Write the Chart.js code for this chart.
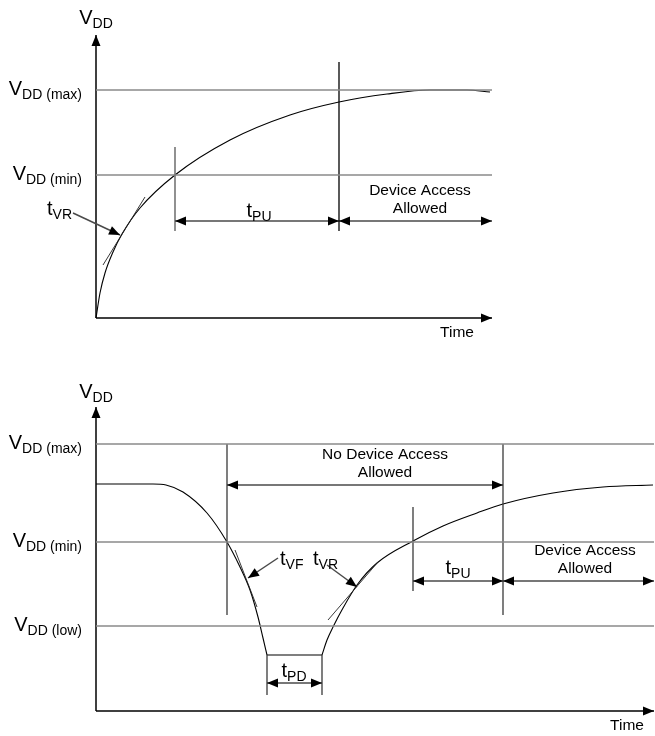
<!DOCTYPE html>
<html>
<head>
<meta charset="utf-8">
<script src="https://cdn.jsdelivr.net/npm/chart.js@4.4.1/dist/chart.umd.min.js"></script>
<style>
  body { margin: 0; background: #fff; }
  #wrap { position: relative; width: 655px; height: 736px; }
  canvas { position: absolute; left: 0; }
</style>
</head>
<body>
<div id="wrap">
  <canvas id="topChart" width="655" height="360" style="top:0"></canvas>
  <canvas id="bottomChart" width="655" height="376" style="top:360px"></canvas>
</div>
<script>
// ---- Power-up diagram (top) ----
// time / voltage in diagram units
const topRiseT = [0, 4, 9, 17, 26, 44, 79, 134, 194, 243, 291, 334, 371, 394];
const topRiseV = [0, 25, 45, 66, 84, 110, 143, 178, 203, 216, 224, 228, 228, 226];
const topLevels = [228, 143];              // VDD(max), VDD(min)
const topLevelNames = ['(max)', '(min)'];
const topTangent = [[7, 53], [49, 121]];    // tVR slope
// [t, vLow, vHigh, colour]
const topMarkers = [[79, 87, 171, '#555'], [243, 87, 256, '#000']];
// [t1, v1, t2, v2, both heads]
const topArrows = [
  [79, 97, 243, 97, true],
  [243, 97, 396, 97, true],
  [-23, 105, 24, 83, false]
];

// ---- Brown-out diagram (bottom) ----
const botFallT = [0, 57, 70, 87, 111, 131, 144, 154, 162, 167, 171];
const botFallV = [227, 227, 226, 219, 198, 169, 144, 121, 94, 73, 56];
const botFloorT = [171, 226];
const botFloorV = [56, 56];
const botRiseT = [226, 231, 237, 247, 261, 281, 317, 347, 381, 407, 457, 507, 557];
const botRiseV = [56, 71, 84, 103, 126, 148, 170, 185, 198, 207, 218, 224, 226];
const botLevels = [267, 169, 85];          // VDD(max), VDD(min), VDD(low)
const botLevelNames = ['(max)', '(min)', '(low)'];
const botTangents = [[[139, 161], [161, 104]], [[232, 91], [282, 149]]];
const botMarkers = [[131, 96, 267], [317, 120, 204], [407, 96, 267], [171, 16, 56], [226, 16, 56]];
const botArrows = [
  [131, 226, 407, 226, true],
  [317, 130, 407, 130, true],
  [407, 130, 558, 130, true],
  [171, 28, 226, 28, true],
  [182, 153, 152, 133, false],
  [231, 146, 261, 124, false]
];

const FONT = 'Arial, "Liberation Sans", sans-serif';

function lineSet(points, color, width, smooth) {
  return {
    data: points.map(p => ({ x: p[0], y: p[1] })),
    showLine: true,
    borderColor: color,
    borderWidth: width,
    pointRadius: 0,
    clip: false,
    tension: smooth ? 0.4 : 0,
    cubicInterpolationMode: smooth ? 'monotone' : 'default'
  };
}

function zip(ts, vs) {
  return ts.map((t, i) => [t, vs[i]]);
}

function drawHead(ctx, x1, y1, x2, y2) {
  const a = Math.atan2(y2 - y1, x2 - x1);
  const len = 11, hw = 4.5;
  ctx.beginPath();
  ctx.moveTo(x2, y2);
  ctx.lineTo(x2 - len * Math.cos(a) + hw * Math.sin(a), y2 - len * Math.sin(a) - hw * Math.cos(a));
  ctx.lineTo(x2 - len * Math.cos(a) - hw * Math.sin(a), y2 - len * Math.sin(a) + hw * Math.cos(a));
  ctx.closePath();
  ctx.fill();
}

// main text + subscript, e.g. V + DD (max)
function drawSub(ctx, x, y, main, sub, align, size) {
  const subSize = Math.round(size * 0.68);
  ctx.font = size + 'px ' + FONT;
  const w1 = ctx.measureText(main).width;
  ctx.font = subSize + 'px ' + FONT;
  const w2 = sub ? ctx.measureText(sub).width : 0;
  let x0 = x;
  if (align === 'right') x0 = x - w1 - w2;
  if (align === 'center') x0 = x - (w1 + w2) / 2;
  ctx.textAlign = 'left';
  ctx.textBaseline = 'middle';
  ctx.font = size + 'px ' + FONT;
  ctx.fillText(main, x0, y);
  if (sub) {
    ctx.font = subSize + 'px ' + FONT;
    ctx.fillText(sub, x0 + w1, y + size * 0.33);
  }
}

function makeChart(id, opts) {
  const datasets = [];
  opts.levels.forEach(v => datasets.push(lineSet([[0, v], [opts.xMax, v]], '#8a8a8a', 1.6)));
  opts.markers.forEach(m => datasets.push(lineSet([[m[0], m[1]], [m[0], m[2]]], m[3] || '#3a3a3a', 1.3)));
  opts.arrows.forEach(a => datasets.push(lineSet([[a[0], a[1]], [a[2], a[3]]], '#4a4a4a', 1.5)));
  opts.tangents.forEach(tg => datasets.push(lineSet(tg, '#222', 0.9)));
  opts.curves.forEach(c => datasets.push(lineSet(c, '#000', 1.1, c.length > 2)));
  datasets.push(lineSet([[0, 0], [0, opts.yMax]], '#000', 1.5));
  datasets.push(lineSet([[0, 0], [opts.xMax, 0]], '#000', 1.5));

  const annotate = {
    id: 'annotate',
    afterDatasetsDraw(chart) {
      const ctx = chart.ctx;
      const X = v => chart.scales.x.getPixelForValue(v);
      const Y = v => chart.scales.y.getPixelForValue(v);
      ctx.save();
      ctx.fillStyle = '#000';
      // axis arrow heads
      drawHead(ctx, X(0), Y(0), X(0), Y(opts.yMax));
      drawHead(ctx, X(0), Y(0), X(opts.xMax), Y(0));
      opts.arrows.forEach(a => {
        drawHead(ctx, X(a[0]), Y(a[1]), X(a[2]), Y(a[3]));
        if (a[4]) drawHead(ctx, X(a[2]), Y(a[3]), X(a[0]), Y(a[1]));
      });
      // level labels
      opts.levels.forEach((v, i) => drawSub(ctx, X(-14), Y(v) - 1, 'V', 'DD ' + opts.levelNames[i], 'right', 20));
      drawSub(ctx, X(0), Y(opts.vddLabelV), 'V', 'DD', 'center', 20);
      opts.texts.forEach(t => {
        if (t[5] === 'plain') {
          ctx.font = '15.5px ' + FONT;
          ctx.textAlign = 'center';
          ctx.textBaseline = 'middle';
          ctx.fillText(t[0], X(t[2]), Y(t[3]));
        } else {
          drawSub(ctx, X(t[2]), Y(t[3]), t[0], t[1], t[4], 20);
        }
      });
      ctx.restore();
    }
  };

  return new Chart(document.getElementById(id), {
    type: 'scatter',
    data: { datasets },
    options: {
      responsive: false,
      animation: false,
      layout: { padding: opts.padding },
      scales: {
        x: { type: 'linear', min: 0, max: opts.xMax, display: false },
        y: { type: 'linear', min: 0, max: opts.yMax, display: false }
      },
      plugins: { legend: { display: false }, tooltip: { enabled: false } }
    },
    plugins: [annotate]
  });
}

makeChart('topChart', {
  xMax: 396, yMax: 283,
  padding: { left: 96, right: 163, top: 35, bottom: 42 },
  curves: [zip(topRiseT, topRiseV)],
  levels: topLevels, levelNames: topLevelNames,
  markers: topMarkers,
  arrows: topArrows,
  tangents: [topTangent],
  vddLabelV: 300,
  texts: [
    ['t', 'VR', -24, 109, 'right'],
    ['t', 'PU', 163, 107, 'center'],
    ['Device Access', '', 324, 127, 'center', 'plain'],
    ['Allowed', '', 324, 109, 'center', 'plain'],
    ['Time', '', 361, -15, 'center', 'plain']
  ]
});

makeChart('bottomChart', {
  xMax: 558, yMax: 304,
  padding: { left: 96, right: 1, top: 47, bottom: 25 },
  curves: [zip(botFallT, botFallV), zip(botFloorT, botFloorV), zip(botRiseT, botRiseV)],
  levels: botLevels, levelNames: botLevelNames,
  markers: botMarkers,
  arrows: botArrows,
  tangents: botTangents,
  vddLabelV: 319,
  texts: [
    ['t', 'VF', 184, 152, 'left'],
    ['t', 'VR', 217, 152, 'left'],
    ['t', 'PD', 198, 40, 'center'],
    ['t', 'PU', 362, 143, 'center'],
    ['No Device Access', '', 289, 256, 'center', 'plain'],
    ['Allowed', '', 289, 238, 'center', 'plain'],
    ['Device Access', '', 489, 160, 'center', 'plain'],
    ['Allowed', '', 489, 142, 'center', 'plain'],
    ['Time', '', 531, -15, 'center', 'plain']
  ]
});
</script>
</body>
</html>
